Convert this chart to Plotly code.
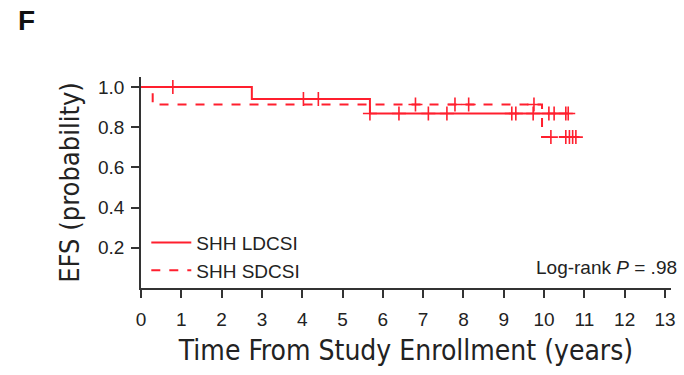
import plotly.graph_objects as go

RED = "#FF1F2E"

# SHH LDCSI (solid)
ld_times = [0, 2.75, 5.68, 10.6]
ld_surv = [1.0, 0.940, 0.868, 0.868]
ld_cens_t = [0.79, 4.03, 4.40, 5.68, 6.40, 7.13, 7.59, 9.2, 9.3, 9.73, 10.12, 10.25, 10.54, 10.6]
ld_cens_s = [1.0, 0.940, 0.940, 0.868, 0.868, 0.868, 0.868, 0.868, 0.868, 0.868, 0.868, 0.868, 0.868, 0.868]

# SHH SDCSI (dashed)
sd_times = [0, 0.29, 9.95, 10.86]
sd_surv = [1.0, 0.913, 0.751, 0.751]
sd_cens_t = [6.81, 7.79, 8.13, 9.75, 10.17, 10.54, 10.63, 10.71, 10.79]
sd_cens_s = [0.913, 0.913, 0.913, 0.913, 0.751, 0.751, 0.751, 0.751, 0.751]

x_ticks = list(range(0, 14))
y_ticks = [0.2, 0.4, 0.6, 0.8, 1.0]
y_ticklabels = ["0.2", "0.4", "0.6", "0.8", "1.0"]

TITLE_FONT = "DejaVu Sans Condensed, Liberation Sans Narrow, Liberation Sans"

fig = go.Figure()
fig.add_trace(go.Scatter(x=ld_times, y=ld_surv, mode="lines", line_shape="hv",
                         line=dict(color=RED, width=2), name="SHH LDCSI", legendgroup="a"))
fig.add_trace(go.Scatter(x=sd_times, y=sd_surv, mode="lines", line_shape="hv",
                         line=dict(color=RED, width=2, dash="dash"), name="SHH SDCSI", legendgroup="b"))
for t, s in ((ld_cens_t, ld_cens_s), (sd_cens_t, sd_cens_s)):
    fig.add_trace(go.Scatter(x=t, y=s, mode="markers", showlegend=False,
                             marker=dict(symbol="cross-thin", size=10, color=RED,
                                         line=dict(color=RED, width=1.6))))

fig.update_layout(
    width=684, height=375,
    margin=dict(l=141, r=9, t=77, b=87),
    paper_bgcolor="white", plot_bgcolor="white",
    font=dict(family="Liberation Sans, Arial", color="#222"),
    showlegend=True,
    legend=dict(x=0.01, y=0.305, xanchor="left", yanchor="top", bgcolor="rgba(0,0,0,0)",
                font=dict(size=19, color="#222"), tracegroupgap=0, itemwidth=40),
    xaxis=dict(range=[0, 13.15], tickmode="array", tickvals=x_ticks,
               ticks="outside", ticklen=8, tickwidth=1.5, tickcolor="#333",
               ticklabelstandoff=5,
               showline=True, linecolor="#333", linewidth=1.5, showgrid=False, zeroline=False,
               tickfont=dict(size=19, color="#222"),
               title=dict(text="Time From Study Enrollment (years)",
                          font=dict(family=TITLE_FONT, size=28, color="#222"),
                          standoff=12)),
    yaxis=dict(range=[0, 1.05], tickmode="array", tickvals=y_ticks, ticktext=y_ticklabels,
               ticks="outside", ticklen=8, tickwidth=1.5, tickcolor="#333",
               ticklabelstandoff=3,
               showline=True, linecolor="#333", linewidth=1.5, showgrid=False, zeroline=False,
               tickfont=dict(size=19, color="#222"),
               title=dict(text="EFS (probability)",
                          font=dict(family=TITLE_FONT, size=27, color="#222"),
                          standoff=11)),
)
fig.add_annotation(xref="paper", yref="paper", x=1.015, y=0.095, xanchor="right", yanchor="middle",
                   text="Log-rank <i>P</i> = .98", showarrow=False, font=dict(size=19, color="#222"))
fig.add_annotation(xref="paper", yref="paper", x=-0.235, y=1.27, xanchor="left", yanchor="middle",
                   text="<b>F</b>", showarrow=False, font=dict(size=28, color="#111"))
fig.write_html("out.html")
